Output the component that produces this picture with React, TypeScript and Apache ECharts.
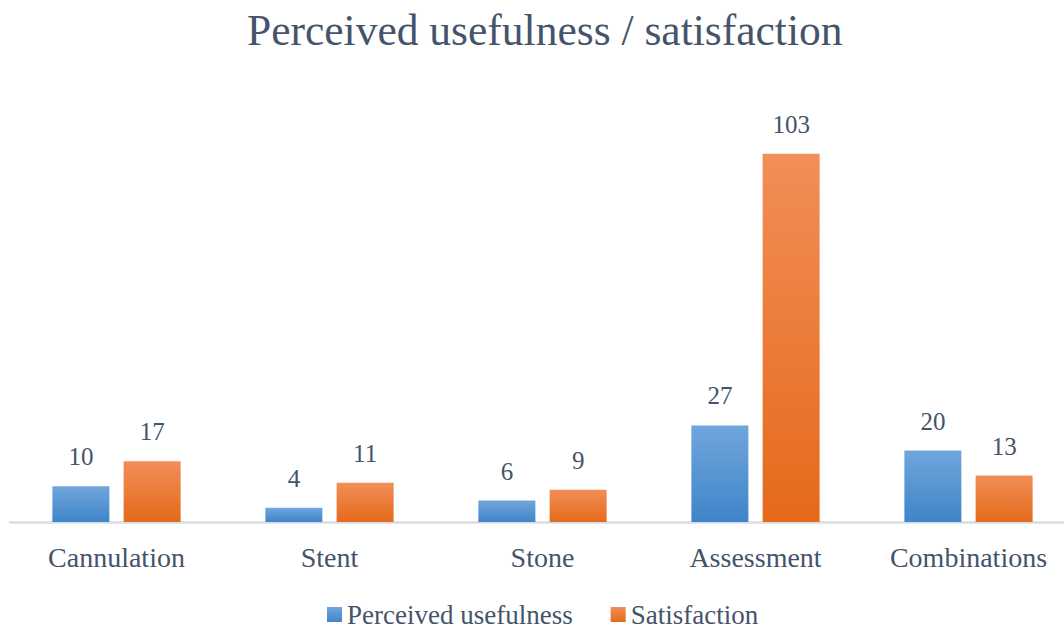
import React, { useEffect, useRef } from "react";
import * as echarts from "echarts";

const categories = ["Cannulation", "Stent", "Stone", "Assessment", "Combinations"];
const usefulness = [10, 4, 6, 27, 20];
const satisfaction = [17, 11, 9, 103, 13];
const seriesNames = ["Perceived usefulness", "Satisfaction"];

const FONT = "Liberation Serif, Times New Roman, DejaVu Serif, serif";
const TEXT = "#44546A";

export default function App() {
  const ref = useRef<HTMLDivElement>(null);
  useEffect(() => {
    if (!ref.current) return;
    const chart = echarts.init(ref.current, undefined, { renderer: "svg" });
    const grad = (a: string, b: string) =>
      new echarts.graphic.LinearGradient(0, 0, 0, 1, [
        { offset: 0, color: a },
        { offset: 1, color: b },
      ]);
    const label = {
      show: true,
      position: "top",
      distance: 17,
      fontFamily: FONT,
      fontSize: 25,
      color: TEXT,
    };
    chart.setOption({
      animation: false,
      textStyle: { fontFamily: FONT },
      title: {
        text: "Perceived usefulness / satisfaction",
        left: 247,
        top: 8,
        padding: 0,
        textStyle: { fontFamily: FONT, fontSize: 43.5, fontWeight: "normal", color: TEXT },
      },
      legend: {
        top: 596,
        left: 322,
        padding: 5,
        itemWidth: 15,
        itemHeight: 15,
        itemGap: 38,
        icon: "rect",
        textStyle: { fontFamily: FONT, fontSize: 27, color: TEXT },
        data: seriesNames,
      },
      grid: { left: 10, right: 1, top: 93, bottom: 107, containLabel: false },
      xAxis: {
        type: "category",
        data: categories,
        axisLine: { lineStyle: { color: "#D9DDE3", width: 2.5 } },
        axisTick: { show: false },
        axisLabel: { fontFamily: FONT, fontSize: 28, color: TEXT, margin: 21 },
      },
      yAxis: {
        type: "value",
        min: 0,
        max: 120,
        show: false,
        splitLine: { show: false },
      },
      series: [
        {
          name: seriesNames[0],
          type: "bar",
          data: usefulness,
          barWidth: 57,
          barGap: "25%",
          itemStyle: { color: grad("#70A6DC", "#3F85C9") },
          label,
        },
        {
          name: seriesNames[1],
          type: "bar",
          data: satisfaction,
          barWidth: 57,
          itemStyle: { color: grad("#F28E58", "#E46A1A") },
          label,
        },
      ],
    });
    return () => chart.dispose();
  }, []);
  return (
    <div
      style={{
        position: "absolute",
        left: 0,
        top: 0,
        width: 1064,
        height: 629,
        overflow: "hidden",
      }}
    >
      <div ref={ref} style={{ width: 1076, height: 629 }} />
    </div>
  );
}
